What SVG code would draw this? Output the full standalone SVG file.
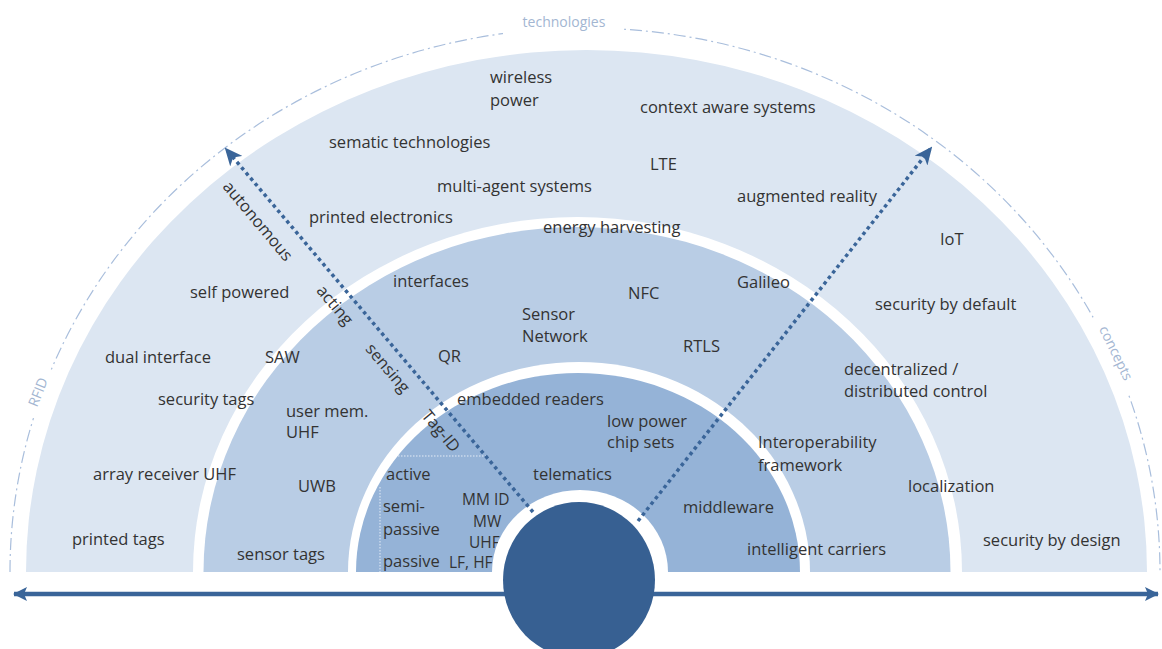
<svg xmlns="http://www.w3.org/2000/svg" width="1162" height="649" viewBox="0 0 1162 649">
<style>
.t{font-family:"Open Sans","Liberation Sans",sans-serif;font-size:16.5px;fill:#333333}
.f{font-size:15.5px}
.lb{font-family:"Open Sans","Liberation Sans",sans-serif;font-size:14px;fill:#a3b6d2}
.dot{fill:none;stroke:#3a6599;stroke-width:3.5;stroke-dasharray:3.5 3.5}
.thin{fill:none;stroke:#e4ecf6;stroke-width:1;stroke-dasharray:1.5 1.5}
</style>
<defs>
<marker id="ah" viewBox="0 0 18 16" refX="16" refY="8" markerWidth="18" markerHeight="16" markerUnits="userSpaceOnUse" orient="auto">
<path d="M0,0 L18,8 L0,16 L5,8 Z" fill="#3a6599"/>
</marker>
<marker id="hz" viewBox="0 0 14 14" refX="13" refY="7" markerWidth="14" markerHeight="14" markerUnits="userSpaceOnUse" orient="auto-start-reverse">
<path d="M0,0 L14,7 L0,14 L3,7 Z" fill="#3a6599"/>
</marker>
<mask id="gaps" maskUnits="userSpaceOnUse" x="0" y="0" width="1162" height="649">
<rect width="1162" height="649" fill="#ffffff"/>
<rect x="503" y="5" width="120" height="45" fill="#000000"/>
<rect x="-26" y="-12" width="52" height="24" fill="#000000" transform="translate(38,392) rotate(-68)"/>
<rect x="-42" y="-12" width="84" height="24" fill="#000000" transform="translate(1116,353) rotate(64)"/>
</mask>
</defs>
<rect width="1162" height="649" fill="#ffffff"/>
<g id="frame">
<path d="M10,572 A575,544 0 0 1 1160,572" fill="none" stroke="#a9bedc" stroke-width="1.2" stroke-dasharray="12 4 2 4" mask="url(#gaps)"/>
</g>
<g id="band-concepts"><path d="M26,572 A560.5,522 0 0 1 1147,572 Z" fill="#dce6f2"/></g>
<path d="M193,572 A384.5,355 0 0 1 962,572 Z" fill="#ffffff"/>
<g id="band-middle"><path d="M203.5,572 A373.5,345 0 0 1 950.5,572 Z" fill="#b9cde5"/></g>
<path d="M348,572 A231,210 0 0 1 810,572 Z" fill="#ffffff"/>
<g id="band-inner"><path d="M356,572 A222,199 0 0 1 800,572 Z" fill="#95b3d7"/></g>
<g id="inner-grid">
<path class="thin" d="M398,456 L488,456"/>
<path class="thin" d="M380,487 L380,572"/>
</g>
<g id="labels-frame">
<text class="lb" x="564" y="27" text-anchor="middle">technologies</text>
<text class="lb" transform="translate(38,392) rotate(-68)" text-anchor="middle" dy="0.35em" font-size="13">RFID</text>
<text class="lb" transform="translate(1116,353) rotate(64)" text-anchor="middle" dy="0.35em">concepts</text>
</g>
<g id="outer-labels">
<g id="n-wireless"><text class="t" x="490" y="83">wireless</text><text class="t" x="490" y="106">power</text></g>
<g id="n-context"><text class="t" x="640" y="113">context aware systems</text></g>
<g id="n-sematic"><text class="t" x="329" y="148">sematic technologies</text></g>
<g id="n-lte"><text class="t" x="650" y="170">LTE</text></g>
<g id="n-multiagent"><text class="t" x="437" y="192">multi-agent systems</text></g>
<g id="n-augmented"><text class="t" x="737" y="202">augmented reality</text></g>
<g id="n-printedel"><text class="t" x="309" y="223">printed electronics</text></g>
<g id="n-iot"><text class="t" x="940" y="245">IoT</text></g>
<g id="n-selfpowered"><text class="t" x="190" y="298">self powered</text></g>
<g id="n-secdefault"><text class="t" x="875" y="310">security by default</text></g>
<g id="n-dual"><text class="t" x="105" y="363">dual interface</text></g>
<g id="n-decentral"><text class="t" x="844" y="375">decentralized /</text><text class="t" x="844" y="397">distributed control</text></g>
<g id="n-sectags"><text class="t" x="158" y="405">security tags</text></g>
<g id="n-array"><text class="t" x="93" y="480">array receiver UHF</text></g>
<g id="n-localization"><text class="t" x="908" y="492">localization</text></g>
<g id="n-printedtags"><text class="t" x="72" y="545">printed tags</text></g>
<g id="n-secdesign"><text class="t" x="983" y="546">security by design</text></g>
</g>
<g id="middle-labels">
<g id="n-energy"><text class="t" x="543" y="233">energy harvesting</text></g>
<g id="n-interfaces"><text class="t" x="393" y="287">interfaces</text></g>
<g id="n-galileo"><text class="t" x="737" y="288">Galileo</text></g>
<g id="n-nfc"><text class="t" x="628" y="299">NFC</text></g>
<g id="n-sensor"><text class="t" x="522" y="320">Sensor</text><text class="t" x="522" y="342">Network</text></g>
<g id="n-saw"><text class="t" x="265" y="363">SAW</text></g>
<g id="n-qr"><text class="t" x="438" y="362">QR</text></g>
<g id="n-rtls"><text class="t" x="683" y="352">RTLS</text></g>
<g id="n-usermem"><text class="t" x="286" y="417">user mem.</text><text class="t" x="286" y="438">UHF</text></g>
<g id="n-interop"><text class="t" x="758" y="448">Interoperability</text><text class="t" x="758" y="471">framework</text></g>
<g id="n-uwb"><text class="t" x="298" y="492">UWB</text></g>
<g id="n-sensortags"><text class="t" x="237" y="560">sensor tags</text></g>
<g id="n-carriers"><text class="t" x="747" y="555">intelligent carriers</text></g>
</g>
<g id="inner-labels">
<g id="n-embedded"><text class="t" x="457" y="405">embedded readers</text></g>
<g id="n-lowpower"><text class="t" x="607" y="427">low power</text><text class="t" x="607" y="448">chip sets</text></g>
<g id="n-telematics"><text class="t" x="533" y="480">telematics</text></g>
<g id="n-active"><text class="t" x="386" y="480">active</text></g>
<g id="n-semipassive"><text class="t" x="383" y="512">semi-</text><text class="t" x="383" y="535">passive</text></g>
<g id="n-passive"><text class="t" x="383" y="567">passive</text></g>
<g id="n-freq"><text class="t f" x="462" y="505">MM ID</text><text class="t f" x="473" y="527">MW</text><text class="t f" x="469" y="548">UHF</text><text class="t f" x="449" y="568">LF, HF</text></g>
<g id="n-middleware"><text class="t" x="683" y="513">middleware</text></g>
</g>
<g id="axis-labels">
<text class="t" transform="translate(258,221) rotate(50)" text-anchor="middle" dy="0.35em">autonomous</text>
<text class="t" transform="translate(335,305) rotate(50)" text-anchor="middle" dy="0.35em">acting</text>
<text class="t" transform="translate(388,368) rotate(50)" text-anchor="middle" dy="0.35em">sensing</text>
<text class="t" transform="translate(441,431) rotate(50)" text-anchor="middle" dy="0.35em">Tag-ID</text>
</g>
<path d="M492,572 A88,82 0 0 1 668,572 Z" fill="#ffffff"/>
<g id="connectors">
<path class="dot" d="M533,512 L226,149" marker-end="url(#ah)"/>
<path class="dot" d="M638,521 L931,148" marker-end="url(#ah)"/>
<line x1="14" y1="594" x2="1158" y2="594" stroke="#3a6599" stroke-width="4.5" marker-start="url(#hz)" marker-end="url(#hz)"/>
</g>
<g id="core"><ellipse cx="579" cy="580" rx="76" ry="78" fill="#376092"/></g>
</svg>
